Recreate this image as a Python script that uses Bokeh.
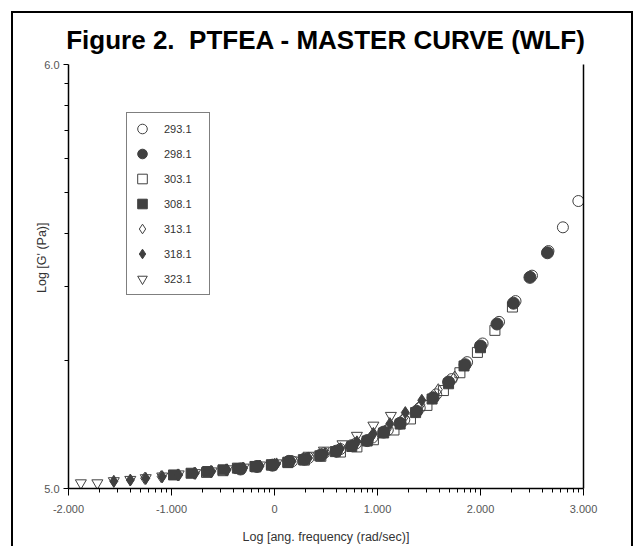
import math
from bokeh.plotting import figure
from bokeh.models import (FixedTicker, LinearAxis, Legend, LegendItem,
                          Range1d, ColumnDataSource)
from bokeh.embed import file_html
from bokeh.resources import INLINE

# ---- data (log10 values) ----
temps = ["293.1", "298.1", "303.1", "308.1", "313.1", "318.1", "323.1"]

f_293 = [0.17, 0.33, 0.48, 0.64, 0.79, 0.95, 1.10, 1.26, 1.41, 1.57, 1.72, 1.87, 2.02, 2.18, 2.34, 2.50, 2.66, 2.80, 2.95]
g_293 = [5.064, 5.072, 5.083, 5.093, 5.106, 5.120, 5.138, 5.162, 5.190, 5.222, 5.258, 5.298, 5.342, 5.393, 5.442, 5.502, 5.560, 5.616, 5.678]

f_298 = [-0.33, -0.17, -0.02, 0.14, 0.29, 0.45, 0.60, 0.75, 0.90, 1.06, 1.22, 1.38, 1.54, 1.69, 1.85, 2.00, 2.16, 2.32, 2.48, 2.65]
g_298 = [5.046, 5.052, 5.055, 5.064, 5.069, 5.079, 5.088, 5.101, 5.113, 5.133, 5.154, 5.182, 5.214, 5.251, 5.292, 5.336, 5.388, 5.437, 5.498, 5.556]

f_303 = [-0.66, -0.50, -0.34, -0.18, -0.03, 0.13, 0.29, 0.45, 0.64, 0.80, 0.96, 1.16, 1.32, 1.48, 1.64, 1.80, 1.97, 2.14, 2.31]
g_303 = [5.038, 5.042, 5.047, 5.051, 5.055, 5.061, 5.067, 5.076, 5.086, 5.098, 5.115, 5.138, 5.164, 5.196, 5.231, 5.273, 5.321, 5.373, 5.428]

f_308 = [-0.98, -0.81, -0.65, -0.50, -0.36, -0.19, -0.03, 0.13, 0.28, 0.44, 0.59, 0.75, 0.90, 1.06, 1.22, 1.37, 1.53, 1.69, 1.84, 2.00]
g_308 = [5.032, 5.036, 5.040, 5.044, 5.048, 5.052, 5.056, 5.062, 5.068, 5.077, 5.087, 5.099, 5.112, 5.131, 5.152, 5.179, 5.211, 5.247, 5.289, 5.332]

f_313 = [-1.26, -1.10, -0.94, -0.78, -0.62, -0.47, -0.31, -0.15, 0.00, 0.16, 0.31, 0.47, 0.63, 0.78, 0.94, 1.10, 1.26, 1.42, 1.59, 1.75]
g_313 = [5.024, 5.028, 5.032, 5.036, 5.040, 5.044, 5.048, 5.053, 5.057, 5.063, 5.070, 5.079, 5.091, 5.104, 5.122, 5.142, 5.168, 5.198, 5.233, 5.263]

f_318 = [-1.56, -1.40, -1.25, -1.09, -0.93, -0.77, -0.61, -0.46, -0.30, -0.14, 0.02, 0.17, 0.33, 0.49, 0.64, 0.80, 0.96, 1.12, 1.27, 1.43]
g_318 = [5.017, 5.020, 5.024, 5.028, 5.032, 5.036, 5.040, 5.044, 5.048, 5.053, 5.058, 5.064, 5.072, 5.082, 5.094, 5.110, 5.130, 5.153, 5.179, 5.208]

f_323 = [-1.88, -1.72, -1.56, -1.40, -1.25, -1.09, -0.93, -0.77, -0.61, -0.46, -0.30, -0.14, 0.02, 0.17, 0.33, 0.48, 0.66, 0.80, 0.96, 1.13]
g_323 = [5.013, 5.013, 5.018, 5.021, 5.025, 5.029, 5.034, 5.037, 5.041, 5.046, 5.050, 5.055, 5.060, 5.067, 5.078, 5.090, 5.105, 5.125, 5.149, 5.172]

x_major = [-2, -1, 0, 1, 2, 3]
x_labels = ["-2.000", "-1.000", "0", "1.000", "2.000", "3.000"]
y_major = [5, 6]
y_labels = ["5.0", "6.0"]

title_text = "Figure 2.\u00a0 PTFEA - MASTER CURVE (WLF)"
x_title = "Log [ang. frequency (rad/sec)]"
y_title = "Log [G' (Pa)]"

# ---- figure ----
DARK = "#404040"
FRAME_L, FRAME_R, FRAME_T, FRAME_B = 68, 583, 64, 488
W, H = 642, 546

p = figure(width=W, height=H, x_range=Range1d(-2, 3), y_range=Range1d(5, 6),
           output_backend="svg", toolbar_location=None,
           min_border_left=FRAME_L, min_border_right=W - FRAME_R,
           min_border_top=FRAME_T, min_border_bottom=H - FRAME_B,
           x_axis_type=None, y_axis_type=None)
p.grid.visible = False
p.outline_line_color = None
p.background_fill_color = "white"
p.border_fill_alpha = 0.0

p.title.text = title_text
p.title.align = "center"
p.title.text_font = "Liberation Sans"
p.title.text_font_size = "26px"
p.title.text_font_style = "bold"
p.title.text_color = "black"
p.title.standoff = 20

# outer frame of the figure (left, top and right edges)
p.styles = {
    "background": (
        "linear-gradient(#000,#000) 11px 11px / 2px 600px no-repeat, "
        "linear-gradient(#000,#000) 11px 11px / 622px 2px no-repeat, "
        "linear-gradient(#000,#000) 631px 11px / 2px 600px no-repeat, #fff"
    )
}

def minor_log(lo, hi):
    out = []
    for k in range(lo, hi):
        for m in range(2, 10):
            out.append(k + math.log10(m))
    return out

xaxis = LinearAxis(ticker=FixedTicker(ticks=x_major, minor_ticks=minor_log(-2, 3)))
xaxis.major_label_overrides = {v: s for v, s in zip(x_major, x_labels)}
xaxis.axis_label = x_title
yaxis = LinearAxis(ticker=FixedTicker(ticks=y_major, minor_ticks=minor_log(5, 6)))
yaxis.major_label_overrides = {v: s for v, s in zip(y_major, y_labels)}
# leading em-spaces shift the (centred, rotated) label upward along the axis
yaxis.axis_label = "\u2003" * 3 + y_title

for ax in (xaxis, yaxis):
    ax.axis_line_color = "black"
    ax.axis_line_width = 1.5
    ax.major_tick_line_color = "black"
    ax.minor_tick_line_color = "black"
    ax.major_tick_in = 0
    ax.minor_tick_in = 0
    ax.major_label_text_font = "Liberation Sans"
    ax.major_label_text_font_size = "11px"
    ax.major_label_text_color = "#555555"
    ax.axis_label_text_font = "Liberation Sans"
    ax.axis_label_text_font_size = "12.5px"
    ax.axis_label_text_font_style = "normal"
    ax.axis_label_text_color = "#333333"

xaxis.major_tick_out = 7
xaxis.minor_tick_out = 4
xaxis.major_label_standoff = 9
xaxis.axis_label_standoff = 14
yaxis.major_tick_out = 5
yaxis.minor_tick_out = 4
yaxis.major_label_standoff = 4
yaxis.axis_label_standoff = -8
yaxis.major_label_orientation = "horizontal"

p.add_layout(xaxis, "below")
p.add_layout(yaxis, "left")

raxis = LinearAxis(ticker=FixedTicker(ticks=[]), major_label_text_font_size="0px",
                   major_tick_line_color=None, minor_tick_line_color=None,
                   axis_line_color="black", axis_line_width=1.5)
p.add_layout(raxis, "right")

# ---- markers ----
specs = [
    ("293.1", f_293, g_293, "circle", None, 11),
    ("303.1", f_303, g_303, "square", None, 10),
    ("313.1", f_313, g_313, "diamond", None, 12),
    ("323.1", f_323, g_323, "inverted_triangle", None, 11),
    ("298.1", f_298, g_298, "circle", DARK, 12),
    ("308.1", f_308, g_308, "square", DARK, 10),
    ("318.1", f_318, g_318, "diamond", DARK, 12),
]
renderers = {}
for name, fx, gy, marker, fill, size in specs:
    src = ColumnDataSource(dict(x=fx, y=gy))
    if fill is None:
        r = p.scatter("x", "y", source=src, marker=marker, size=size,
                      fill_color="white", fill_alpha=0.0, line_color=DARK, line_width=1)
    else:
        r = p.scatter("x", "y", source=src, marker=marker, size=size,
                      fill_color=fill, line_color=fill, line_width=1)
    renderers[name] = r

LEG_TOP, LEG_H = 114, 181
legend = Legend(items=[LegendItem(label=t, renderers=[renderers[t]]) for t in temps],
                location=(126 - FRAME_L, FRAME_B - LEG_TOP - LEG_H),
                padding=3, spacing=0, glyph_width=24, glyph_height=25, label_height=25,
                label_width=42, label_standoff=10, margin=0,
                label_text_font="Liberation Sans", label_text_font_size="11px",
                label_text_color="#333333",
                border_line_color="black", border_line_width=1.2,
                background_fill_color="white", background_fill_alpha=1.0)
p.add_layout(legend, "center")

open("out.html", "w").write(file_html(p, INLINE))
